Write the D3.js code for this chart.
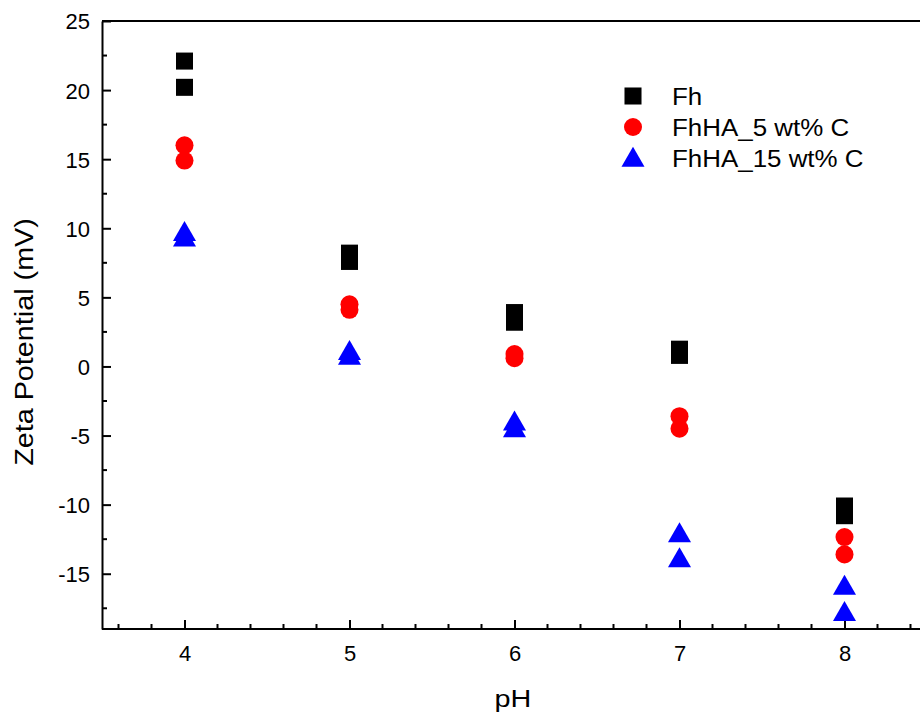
<!DOCTYPE html>
<html>
<head>
<meta charset="utf-8">
<script src="https://cdn.jsdelivr.net/npm/d3@7"></script>
<style>
  body { margin: 0; background: #fff; }
  svg { display: block; font-family: "Liberation Sans", Arial, sans-serif; }
  .axis path, .axis line { stroke: #000; stroke-width: 2px; }
  .title { font-size: 24px; fill: #000; }
  .legend text { font-size: 24px; fill: #000; }
</style>
</head>
<body>
<svg width="920" height="717"></svg>
<script>
// pH values (two replicates each)
const pH = [4, 4, 5, 5, 6, 6, 7, 7, 8, 8];
const fh = [22.1, 20.2, 8.2, 7.6, 3.9, 3.2, 1.25, 0.8, -10.1, -10.8];
const fhha5 = [16.0, 14.9, 4.5, 4.1, 0.9, 0.6, -3.6, -4.5, -12.35, -13.6];
const fhha15 = [9.7, 9.3, 1.1, 0.75, -4.0, -4.5, -12.1, -13.9, -15.9, -17.8];

const seriesNames = ['Fh', 'FhHA_5 wt% C', 'FhHA_15 wt% C'];
const seriesColors = ['#000000', '#ff0000', '#0000ff'];
const xTicks = [4, 5, 6, 7, 8];
const yTicks = [-15, -10, -5, 0, 5, 10, 15, 20, 25];

const svg = d3.select('svg');
const plot = { left: 102, right: 927, top: 21, bottom: 629 };

const x = d3.scaleLinear().domain([3.5, 8.5]).range([plot.left, plot.right]);
const y = d3.scaleLinear().domain([-19, 25]).range([plot.bottom, plot.top]);

// minor ticks
const xMinor = d3.range(3.6, 8.5, 0.2).filter(v => Math.abs(v - Math.round(v)) > 0.01);
const yMinor = d3.range(-17.5, 25, 5);

const g = svg.append('g');

// top frame line
g.append('line')
  .attr('x1', plot.left).attr('x2', 920)
  .attr('y1', plot.top).attr('y2', plot.top)
  .attr('stroke', '#000').attr('stroke-width', 2);

// x axis, ticks pointing inward
const xAxis = g.append('g').attr('class', 'axis')
  .attr('transform', `translate(0,${plot.bottom})`)
  .call(d3.axisBottom(x).tickValues(xTicks).tickSize(-9).tickSizeOuter(0).tickPadding(16).tickFormat(d => String(d)));
xAxis.select('.domain').attr('d', `M${plot.left},0H920`);
xAxis.selectAll('.minor').data(xMinor).enter().append('line')
  .attr('class', 'minor')
  .attr('x1', d => x(d)).attr('x2', d => x(d))
  .attr('y1', 0).attr('y2', -5)
  .attr('stroke', '#000').attr('stroke-width', 2);

// y axis, ticks pointing inward
const yAxis = g.append('g').attr('class', 'axis')
  .attr('transform', `translate(${plot.left},0)`)
  .call(d3.axisLeft(y).tickValues(yTicks).tickSize(-9).tickSizeOuter(0).tickPadding(12).tickFormat(d => String(d)));
yAxis.selectAll('.minor').data(yMinor).enter().append('line')
  .attr('class', 'minor')
  .attr('y1', d => y(d)).attr('y2', d => y(d))
  .attr('x1', 0).attr('x2', 5)
  .attr('stroke', '#000').attr('stroke-width', 2);
yAxis.selectAll('.tick text').attr('dy', '0.36em');

// tick label font, set on the axis groups so it overrides d3 defaults
[xAxis, yAxis].forEach(a => a
  .attr('font-size', 22)
  .attr('font-family', '"Liberation Sans", Arial, sans-serif')
  .selectAll('.tick text')
  .style('font-size', '22px')
  .attr('fill', '#000'));

// axis titles (reference font runs a little wide)
svg.append('text').attr('class', 'title')
  .attr('transform', 'translate(513,707) scale(1.2,1)')
  .attr('text-anchor', 'middle')
  .text('pH');
svg.append('text').attr('class', 'title')
  .style('font-size', '25px')
  .attr('transform', 'translate(33,342) rotate(-90) scale(1.15,1)')
  .attr('text-anchor', 'middle')
  .text('Zeta Potential (mV)');

// markers
const symbols = [d3.symbolSquare, d3.symbolCircle, d3.symbolTriangle];
const sizes = [290, 255, 230];
const allSeries = [fh, fhha5, fhha15];

allSeries.forEach((vals, si) => {
  const sym = d3.symbol().type(symbols[si]).size(sizes[si]);
  g.selectAll(`.pt-${si}`)
    .data(vals.map((v, i) => ({ x: pH[i], y: v })))
    .enter().append('path')
    .attr('class', `pt-${si}`)
    .attr('d', sym)
    .attr('fill', seriesColors[si])
    .attr('transform', d => `translate(${x(d.x)},${y(d.y) + (si === 2 ? 2 : 0)})`);
});

// legend
const legend = svg.append('g').attr('class', 'legend')
  .attr('transform', 'translate(633,96)');
seriesNames.forEach((name, i) => {
  const row = legend.append('g').attr('transform', `translate(0,${i * 31})`);
  row.append('path')
    .attr('d', d3.symbol().type(symbols[i]).size(sizes[i])())
    .attr('fill', seriesColors[i])
    .attr('transform', i === 2 ? 'translate(0,2)' : null);
  row.append('text')
    .attr('transform', 'translate(39,0) scale(1.08,1)')
    .attr('dy', '0.36em')
    .text(name);
});
</script>
</body>
</html>
